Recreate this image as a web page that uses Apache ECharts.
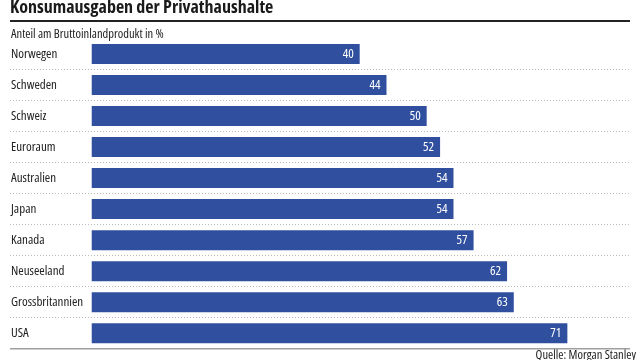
<!DOCTYPE html>
<html><head><meta charset="utf-8">
<script src="https://cdn.jsdelivr.net/npm/echarts@6/dist/echarts.min.js"></script>
<style>html,body{margin:0;padding:0;background:#fff}#c{width:640px;height:360px}</style>
</head><body><div id="c"></div>
<script>
const titleText = 'Konsumausgaben der Privathaushalte';
const subtitleText = 'Anteil am Bruttoinlandprodukt in %';
const sourceText = 'Quelle: Morgan Stanley';
const categories = ['Norwegen','Schweden','Schweiz','Euroraum','Australien','Japan','Kanada','Neuseeland','Grossbritannien','USA'];
const values = [40,44,50,52,54,54,57,62,63,71];

const FONT = '"Open Sans", sans-serif';
const COND = 'condensed';
const chart = echarts.init(document.getElementById('c'));
chart.setOption({
  animation: false,
  backgroundColor: '#fff',
  title: [
    {text: titleText, left: 10, top: -1, padding: 0, textStyle: {fontFamily: FONT, fontStyle: COND, fontWeight: 'bold', fontSize: 18, color: '#1a1a1a'}},
    {text: subtitleText, left: 11, top: 28, padding: 0, textStyle: {fontFamily: FONT, fontStyle: COND, fontWeight: 'normal', fontSize: 12.5, color: '#222'}},
    {text: sourceText, right: 4, top: 349, padding: 0, textStyle: {fontFamily: FONT, fontStyle: COND, fontWeight: 'normal', fontSize: 12.5, color: '#222'}}
  ],
  graphic: [
    {type: 'rect', shape: {x: 10, y: 20, width: 620, height: 2}, style: {fill: '#222'}, z: 10},
    {type: 'line', shape: {x1: 10, y1: 348.8, x2: 630, y2: 348.8}, style: {stroke: '#a0a0a0', lineWidth: 1.5}, z: 10}
  ],
  grid: {left: 10, right: 11, top: 38.5, bottom: 11.3, containLabel: false},
  xAxis: {type: 'value', min: -12.2, max: 80.2, show: false},
  yAxis: {
    type: 'category', data: categories, inverse: true,
    axisLine: {show: false}, axisTick: {show: false},
    axisLabel: {inside: true, margin: 1, align: 'left', fontFamily: FONT, fontStyle: COND, fontSize: 13, color: '#222'},
    splitLine: {show: true, interval: function (i) { return i !== 0; }, lineStyle: {type: [1, 2], color: '#bdbdbd', width: 1}}
  },
  series: [{
    type: 'bar', data: values, barWidth: 20,
    itemStyle: {color: '#30509f'},
    label: {show: true, position: 'insideRight', distance: 6, color: '#fff', fontFamily: FONT, fontStyle: COND, fontSize: 13}
  }]
});
</script></body></html>
